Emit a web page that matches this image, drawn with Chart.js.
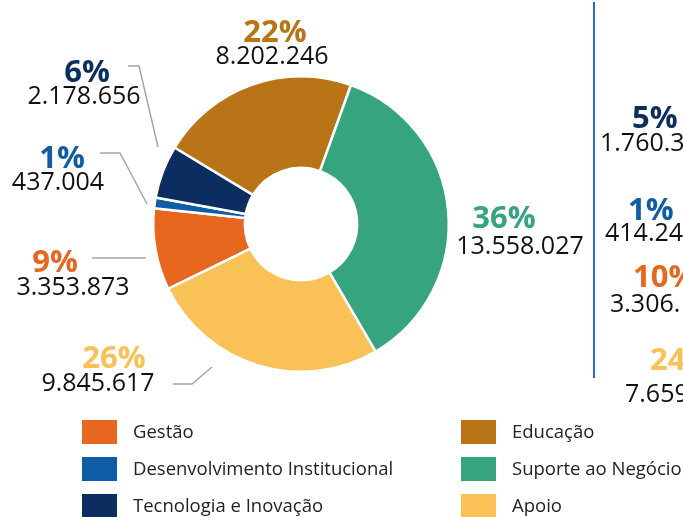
<!DOCTYPE html>
<html>
<head>
<meta charset="utf-8">
<script src="https://cdn.jsdelivr.net/npm/chart.js@4.4.0/dist/chart.umd.min.js"></script>
<style>
html,body{margin:0;padding:0;background:#fff;}
#wrap{width:683px;height:517px;position:relative;}
</style>
</head>
<body>
<div id="wrap"><canvas id="c" width="683" height="517"></canvas></div>
<script>
// ---- data ----
const categories = ['Gestão', 'Desenvolvimento Institucional', 'Tecnologia e Inovação', 'Educação', 'Suporte ao Negócio', 'Apoio'];
const values = [3353873, 437004, 2178656, 8202246, 13558027, 9845617];
const colors = ['#E8671F', '#0F5CA7', '#0B2D5F', '#B87416', '#35A47F', '#F9C156'];
// partial labels of the neighbouring (cropped) chart at the right edge
const sidePercents = ['5%', '1%', '10%', '24'];
const sideValues = ['1.760.3', '414.24', '3.306.', '7.659'];
const sideColors = ['#0B2D5F', '#0F5CA7', '#E8671F', '#F9C156'];

// ---- layout (positions only) ----
// [pctCenterX, pctBaseline, numCenterX, numBaseline]
const labelPos = [
  [55, 272, 73, 295],     // Gestão
  [62, 168, 58, 190],     // Desenvolvimento
  [87, 82, 84, 104],      // Tecnologia
  [275, 42, 272, 64],     // Educação
  [504, 228, 520, 254],   // Suporte
  [114, 368, 98, 391]     // Apoio
];
const leaders = [
  [[92, 258], [146, 258]],
  [[100, 153], [120, 153], [147, 204]],
  [[128, 66], [139, 66], [158, 147]],
  null,
  null,
  [[173, 384], [192, 384], [212, 367]]
];
const sidePos = [[632, 128, 600, 151], [628, 220, 605, 241], [633, 287, 610, 312], [650, 370, 625, 402]];

const total = values.reduce((a, b) => a + b, 0);
const fmt = v => String(v).replace(/\B(?=(\d{3})+(?!\d))/g, '.');

const PCT_FONT = 'bold 31px "Open Sans", "Noto Sans", sans-serif';
const NUM_FONT = '25px "Open Sans", "Noto Sans", sans-serif';

const overlay = {
  id: 'overlay',
  afterDraw(chart) {
    const ctx = chart.ctx;
    ctx.save();
    // leader lines
    ctx.strokeStyle = '#A6A6A6';
    ctx.lineWidth = 1.5;
    leaders.forEach(pts => {
      if (!pts) return;
      ctx.beginPath();
      ctx.moveTo(pts[0][0], pts[0][1]);
      for (let i = 1; i < pts.length; i++) ctx.lineTo(pts[i][0], pts[i][1]);
      ctx.stroke();
    });
    // labels
    ctx.textAlign = 'center';
    ctx.textBaseline = 'alphabetic';
    values.forEach((v, i) => {
      const p = labelPos[i];
      ctx.fillStyle = colors[i];
      ctx.font = PCT_FONT;
      ctx.fillText(Math.round(v / total * 100) + '%', p[0], p[1]);
      ctx.fillStyle = '#111';
      ctx.font = NUM_FONT;
      ctx.fillText(fmt(v), p[2], p[3]);
    });
    // right-side divider and cropped labels
    ctx.strokeStyle = '#2E6CC2';
    ctx.lineWidth = 2;
    ctx.beginPath();
    ctx.moveTo(594, 2);
    ctx.lineTo(594, 378);
    ctx.stroke();
    ctx.textAlign = 'left';
    sidePercents.forEach((t, i) => {
      const p = sidePos[i];
      ctx.fillStyle = sideColors[i];
      ctx.font = PCT_FONT;
      ctx.fillText(t, p[0], p[1]);
      ctx.fillStyle = '#111';
      ctx.font = NUM_FONT;
      ctx.fillText(sideValues[i], p[2], p[3]);
    });
    // legend (column-wise: 3 rows x 2 columns)
    ctx.font = '18.5px "Open Sans", "Noto Sans", sans-serif';
    ctx.textBaseline = 'middle';
    categories.forEach((c, i) => {
      const col = Math.floor(i / 3), row = i % 3;
      const bx = col === 0 ? 82 : 461;
      const cy = 432 + row * 37;
      ctx.fillStyle = colors[i];
      ctx.fillRect(bx, cy - 12, 35, 24);
      ctx.fillStyle = '#222';
      ctx.fillText(c, bx + 51, cy + 1);
    });
    ctx.restore();
  }
};

new Chart(document.getElementById('c'), {
  type: 'doughnut',
  data: {
    labels: categories,
    datasets: [{
      data: values,
      backgroundColor: colors,
      borderColor: '#ffffff',
      borderWidth: 2.5,
      hoverOffset: 0
    }]
  },
  options: {
    responsive: false,
    animation: false,
    rotation: 244,
    cutout: '38%',
    layout: { padding: { left: 152, right: 233, top: 75, bottom: 144 } },
    plugins: { legend: { display: false }, tooltip: { enabled: false } }
  },
  plugins: [overlay]
});
</script>
</body>
</html>
